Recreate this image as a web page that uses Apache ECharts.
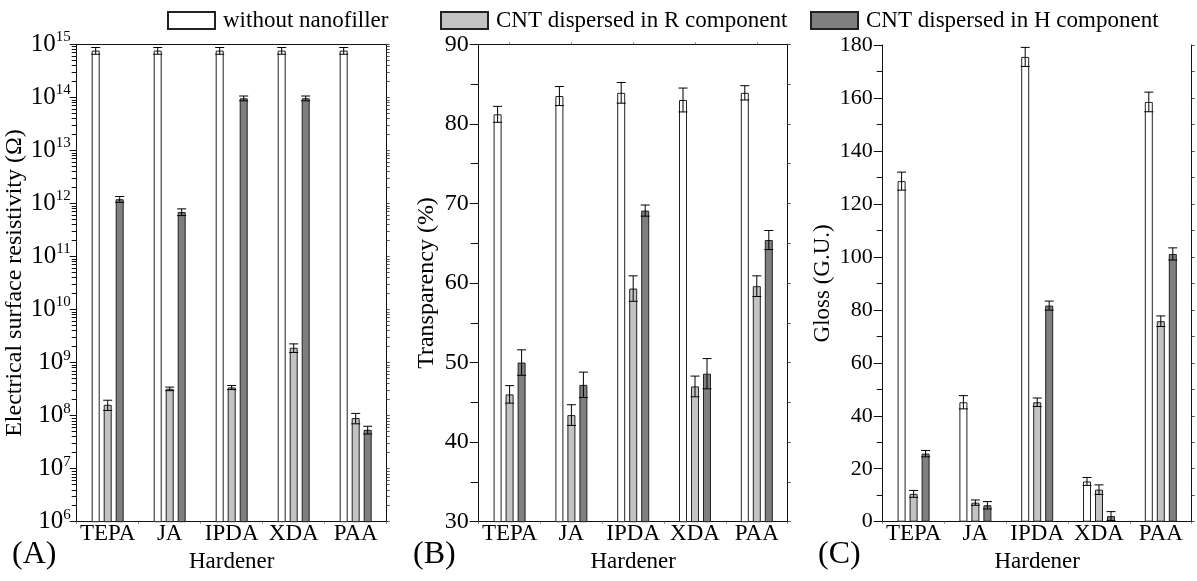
<!DOCTYPE html>
<html>
<head>
<meta charset="utf-8">
<script src="https://cdn.jsdelivr.net/npm/echarts@6/dist/echarts.min.js"></script>
<style>
  html, body { margin: 0; padding: 0; background: #fff; }
  #chart { width: 1197px; height: 581px; }
</style>
</head>
<body>
<div id="chart"></div>
<script>
// Hardener categories shared by all three panels
const categories = ['TEPA', 'JA', 'IPDA', 'XDA', 'PAA'];
const seriesNames = ['without nanofiller', 'CNT dispersed in R component', 'CNT dispersed in H component'];

// (A) Electrical surface resistivity (Ω)
const resistWithout    = [7.6e14, 7.6e14, 7.6e14, 7.6e14, 7.6e14];
const resistWithoutErr = [1.1e14, 1.1e14, 1.1e14, 1.1e14, 1.1e14];
const resistR          = [1.6e8, 3.2e8, 3.4e8, 1.9e9, 9.0e7];
const resistRErr       = [0.35e8, 0.25e8, 0.3e8, 0.35e9, 0.2e8];
const resistH          = [1.2e12, 6.9e11, 9.6e13, 9.6e13, 5.4e7];
const resistHErr       = [0.15e12, 1.0e11, 1.0e13, 1.0e13, 0.9e7];

// (B) Transparency (%)
const transWithout    = [81.2, 83.5, 83.9, 83.0, 83.9];
const transWithoutErr = [1.0, 1.2, 1.3, 1.5, 0.9];
const transR          = [46.0, 43.4, 59.3, 47.0, 59.6];
const transRErr       = [1.1, 1.3, 1.6, 1.3, 1.3];
const transH          = [50.0, 47.2, 69.1, 48.6, 65.4];
const transHErr       = [1.6, 1.6, 0.7, 1.9, 1.2];

// (C) Gloss (G.U.)
const glossWithout    = [128.6, 45.1, 175.5, 15.2, 158.5];
const glossWithoutErr = [3.4, 2.5, 3.6, 1.5, 3.7];
const glossR          = [10.5, 7.2, 45.1, 12.1, 75.7];
const glossRErr       = [1.3, 1.0, 1.6, 1.8, 2.0];
const glossH          = [25.7, 6.2, 81.6, 2.1, 101.1];
const glossHErr       = [1.2, 1.4, 1.7, 1.7, 2.3];

// Decade exponents labelled on the log axis of panel A
const logExponents = [6, 7, 8, 9, 10, 11, 12, 13, 14, 15];
// Minor log ticks: 2..9 times each decade
const logMinorFactors = [2, 3, 4, 5, 6, 7, 8, 9];

const FONT = 'Liberation Serif';
const BAR_W = 8;
const BAR_GAP = 4;
const fills = ['#ffffff', '#c3c3c3', '#7f7f7f'];
const AXIS_COLOR = '#111';

const logMinorValues = [];
logExponents.slice(0, -1).forEach(function (e) {
  logMinorFactors.forEach(function (f) { logMinorValues.push(f * Math.pow(10, e)); });
});

const grids = [
  { left: 76.7, top: 44.3, width: 310, height: 477.4 },
  { left: 478.7, top: 44.3, width: 309, height: 477.4 },
  { left: 882.7, top: 45, width: 309, height: 476.7 }
];

const xAxes = [];
grids.forEach(function (g, i) {
  xAxes.push({
    type: 'category', gridIndex: i, data: categories, position: 'bottom',
    axisLine: { lineStyle: { color: AXIS_COLOR, width: 1 } },
    axisTick: { show: true, length: 2, lineStyle: { color: '#888' } },
    axisLabel: { interval: 0, color: '#000', fontFamily: FONT, fontSize: 23, margin: 1 },
    name: 'Hardener', nameLocation: 'middle', nameGap: 23,
    nameTextStyle: { color: '#000', fontFamily: FONT, fontSize: 23 }
  });
  xAxes.push({
    type: 'category', gridIndex: i, data: categories, position: 'top',
    axisLine: { lineStyle: { color: AXIS_COLOR, width: 1 } },
    axisTick: { show: i > 0, alignWithLabel: true, length: 2, lineStyle: { color: '#888' } },
    axisLabel: { show: false }
  });
});

function logLabel(v) {
  return '{b|10}{s|' + Math.round(Math.log10(v)) + '}';
}

const yAxes = [
  // Panel A: left axis with decade labels
  {
    type: 'log', gridIndex: 0, position: 'left', min: 1e6, max: 1e15, logBase: 10, interval: 1,
    axisLine: { show: true, lineStyle: { color: AXIS_COLOR } },
    axisTick: { show: true, length: 7, lineStyle: { color: AXIS_COLOR } },
    splitLine: { show: false },
    axisLabel: {
      formatter: logLabel, margin: 6, color: '#000', fontFamily: FONT,
      rich: {
        b: { fontFamily: FONT, fontSize: 25, color: '#000' },
        s: { fontFamily: FONT, fontSize: 15, color: '#000', padding: [0, 0, 14, 0] }
      }
    },
    name: 'Electrical surface resistivity (\u03A9)', nameLocation: 'middle', nameGap: 42,
    nameTextStyle: { color: '#000', fontFamily: FONT, fontSize: 24 }
  },
  // Panel A: left minor ticks
  {
    type: 'log', gridIndex: 0, position: 'left', min: 1e6, max: 1e15, logBase: 10,
    axisLine: { show: false },
    axisTick: { show: true, length: 5, customValues: logMinorValues, lineStyle: { color: AXIS_COLOR } },
    axisLabel: { show: false }, splitLine: { show: false }
  },
  // Panel A: right frame
  {
    type: 'log', gridIndex: 0, position: 'right', min: 1e6, max: 1e15, logBase: 10, interval: 1,
    axisLine: { show: true, lineStyle: { color: AXIS_COLOR } },
    axisTick: { show: true, length: 3, lineStyle: { color: '#555' } },
    axisLabel: { show: false }, splitLine: { show: false }
  },
  {
    type: 'log', gridIndex: 0, position: 'right', min: 1e6, max: 1e15, logBase: 10,
    axisLine: { show: false },
    axisTick: { show: true, length: 3, customValues: logMinorValues, lineStyle: { color: '#555' } },
    axisLabel: { show: false }, splitLine: { show: false }
  },
  // Panel B
  {
    type: 'value', gridIndex: 1, position: 'left', min: 30, max: 90, interval: 10,
    axisLine: { show: true, lineStyle: { color: AXIS_COLOR } },
    axisTick: { show: true, length: 9, lineStyle: { color: AXIS_COLOR } },
    minorTick: { show: true, splitNumber: 2, length: 8, lineStyle: { color: AXIS_COLOR } },
    splitLine: { show: false },
    axisLabel: { color: '#000', fontFamily: FONT, fontSize: 24, margin: 10 },
    name: 'Transparency (%)', nameLocation: 'middle', nameGap: 40,
    nameTextStyle: { color: '#000', fontFamily: FONT, fontSize: 24 }
  },
  {
    type: 'value', gridIndex: 1, position: 'right', min: 30, max: 90, interval: 10,
    axisLine: { show: true, lineStyle: { color: AXIS_COLOR } },
    axisTick: { show: true, length: 3, lineStyle: { color: '#555' } },
    minorTick: { show: true, splitNumber: 2, length: 3, lineStyle: { color: '#555' } },
    axisLabel: { show: false }, splitLine: { show: false }
  },
  // Panel C
  {
    type: 'value', gridIndex: 2, position: 'left', min: 0, max: 180, interval: 20,
    axisLine: { show: true, lineStyle: { color: AXIS_COLOR } },
    axisTick: { show: true, length: 9, lineStyle: { color: AXIS_COLOR } },
    minorTick: { show: true, splitNumber: 2, length: 6, lineStyle: { color: AXIS_COLOR } },
    splitLine: { show: false },
    axisLabel: { color: '#000', fontFamily: FONT, fontSize: 22, margin: 10 },
    name: 'Gloss (G.U.)', nameLocation: 'middle', nameGap: 48,
    nameTextStyle: { color: '#000', fontFamily: FONT, fontSize: 23 }
  },
  {
    type: 'value', gridIndex: 2, position: 'right', min: 0, max: 180, interval: 20,
    axisLine: { show: true, lineStyle: { color: AXIS_COLOR } },
    axisTick: { show: true, length: 3, lineStyle: { color: '#555' } },
    minorTick: { show: true, splitNumber: 2, length: 3, lineStyle: { color: '#555' } },
    axisLabel: { show: false }, splitLine: { show: false }
  }
];

// Which y axis each panel's marks are drawn on
const panelY = [0, 4, 6];
const panels = [
  { values: [resistWithout, resistR, resistH], errs: [resistWithoutErr, resistRErr, resistHErr] },
  { values: [transWithout, transR, transH], errs: [transWithoutErr, transRErr, transHErr] },
  { values: [glossWithout, glossR, glossH], errs: [glossWithoutErr, glossRErr, glossHErr] }
];

function errorRenderer(slot) {
  const offset = (slot - 1) * (BAR_W + BAR_GAP);
  return function (params, api) {
    const idx = api.value(0), v = api.value(1), e = api.value(2);
    const top = api.coord([idx, v + e]);
    const bot = api.coord([idx, v - e]);
    const x = top[0] + offset;
    const hw = BAR_W / 2 + 0.5;
    const style = { stroke: '#000', lineWidth: 1 };
    return {
      type: 'group',
      children: [
        { type: 'line', shape: { x1: x, y1: top[1], x2: x, y2: bot[1] }, style: style },
        { type: 'line', shape: { x1: x - hw, y1: top[1], x2: x + hw, y2: top[1] }, style: style },
        { type: 'line', shape: { x1: x - hw, y1: bot[1], x2: x + hw, y2: bot[1] }, style: style }
      ]
    };
  };
}

const series = [];
panels.forEach(function (p, gi) {
  p.values.forEach(function (vals, si) {
    series.push({
      type: 'bar', name: seriesNames[si],
      xAxisIndex: gi * 2, yAxisIndex: panelY[gi],
      data: vals, barWidth: BAR_W, barGap: '50%',
      itemStyle: { color: fills[si], borderColor: '#222', borderWidth: 1 },
      emphasis: { disabled: true },
      clip: true, z: 2
    });
  });
  p.values.forEach(function (vals, si) {
    series.push({
      type: 'custom', name: seriesNames[si],
      xAxisIndex: gi * 2, yAxisIndex: panelY[gi],
      renderItem: errorRenderer(si),
      data: vals.map(function (v, k) { return [k, v, p.errs[si][k]]; }),
      encode: { x: 0, y: 1 },
      clip: true, z: 3, silent: true
    });
  });
});

const legendBase = {
  orient: 'horizontal', top: 9, padding: 0, icon: 'rect', itemWidth: 47, itemHeight: 17,
  textStyle: { color: '#000', fontFamily: FONT, fontSize: 23, padding: [0, 0, 0, 3] },
  selectedMode: false
};
const legends = [
  Object.assign({}, legendBase, { left: 167, data: [seriesNames[0]] }),
  Object.assign({}, legendBase, { left: 440, data: [seriesNames[1]] }),
  Object.assign({}, legendBase, { left: 810, data: [seriesNames[2]] })
];

const panelTags = [
  { text: '(A)', x: 12 },
  { text: '(B)', x: 413 },
  { text: '(C)', x: 818 }
];

const chart = echarts.init(document.getElementById('chart'), null, { renderer: 'canvas' });
chart.setOption({
  backgroundColor: '#fff',
  animation: false,
  textStyle: { fontFamily: FONT, color: '#000' },
  grid: grids,
  xAxis: xAxes,
  yAxis: yAxes,
  legend: legends,
  series: series,
  graphic: panelTags.map(function (t) {
    return {
      type: 'text', left: t.x, top: 539,
      style: { text: t.text, fontFamily: FONT, fontSize: 32, fill: '#000' }
    };
  })
});
</script>
</body>
</html>
